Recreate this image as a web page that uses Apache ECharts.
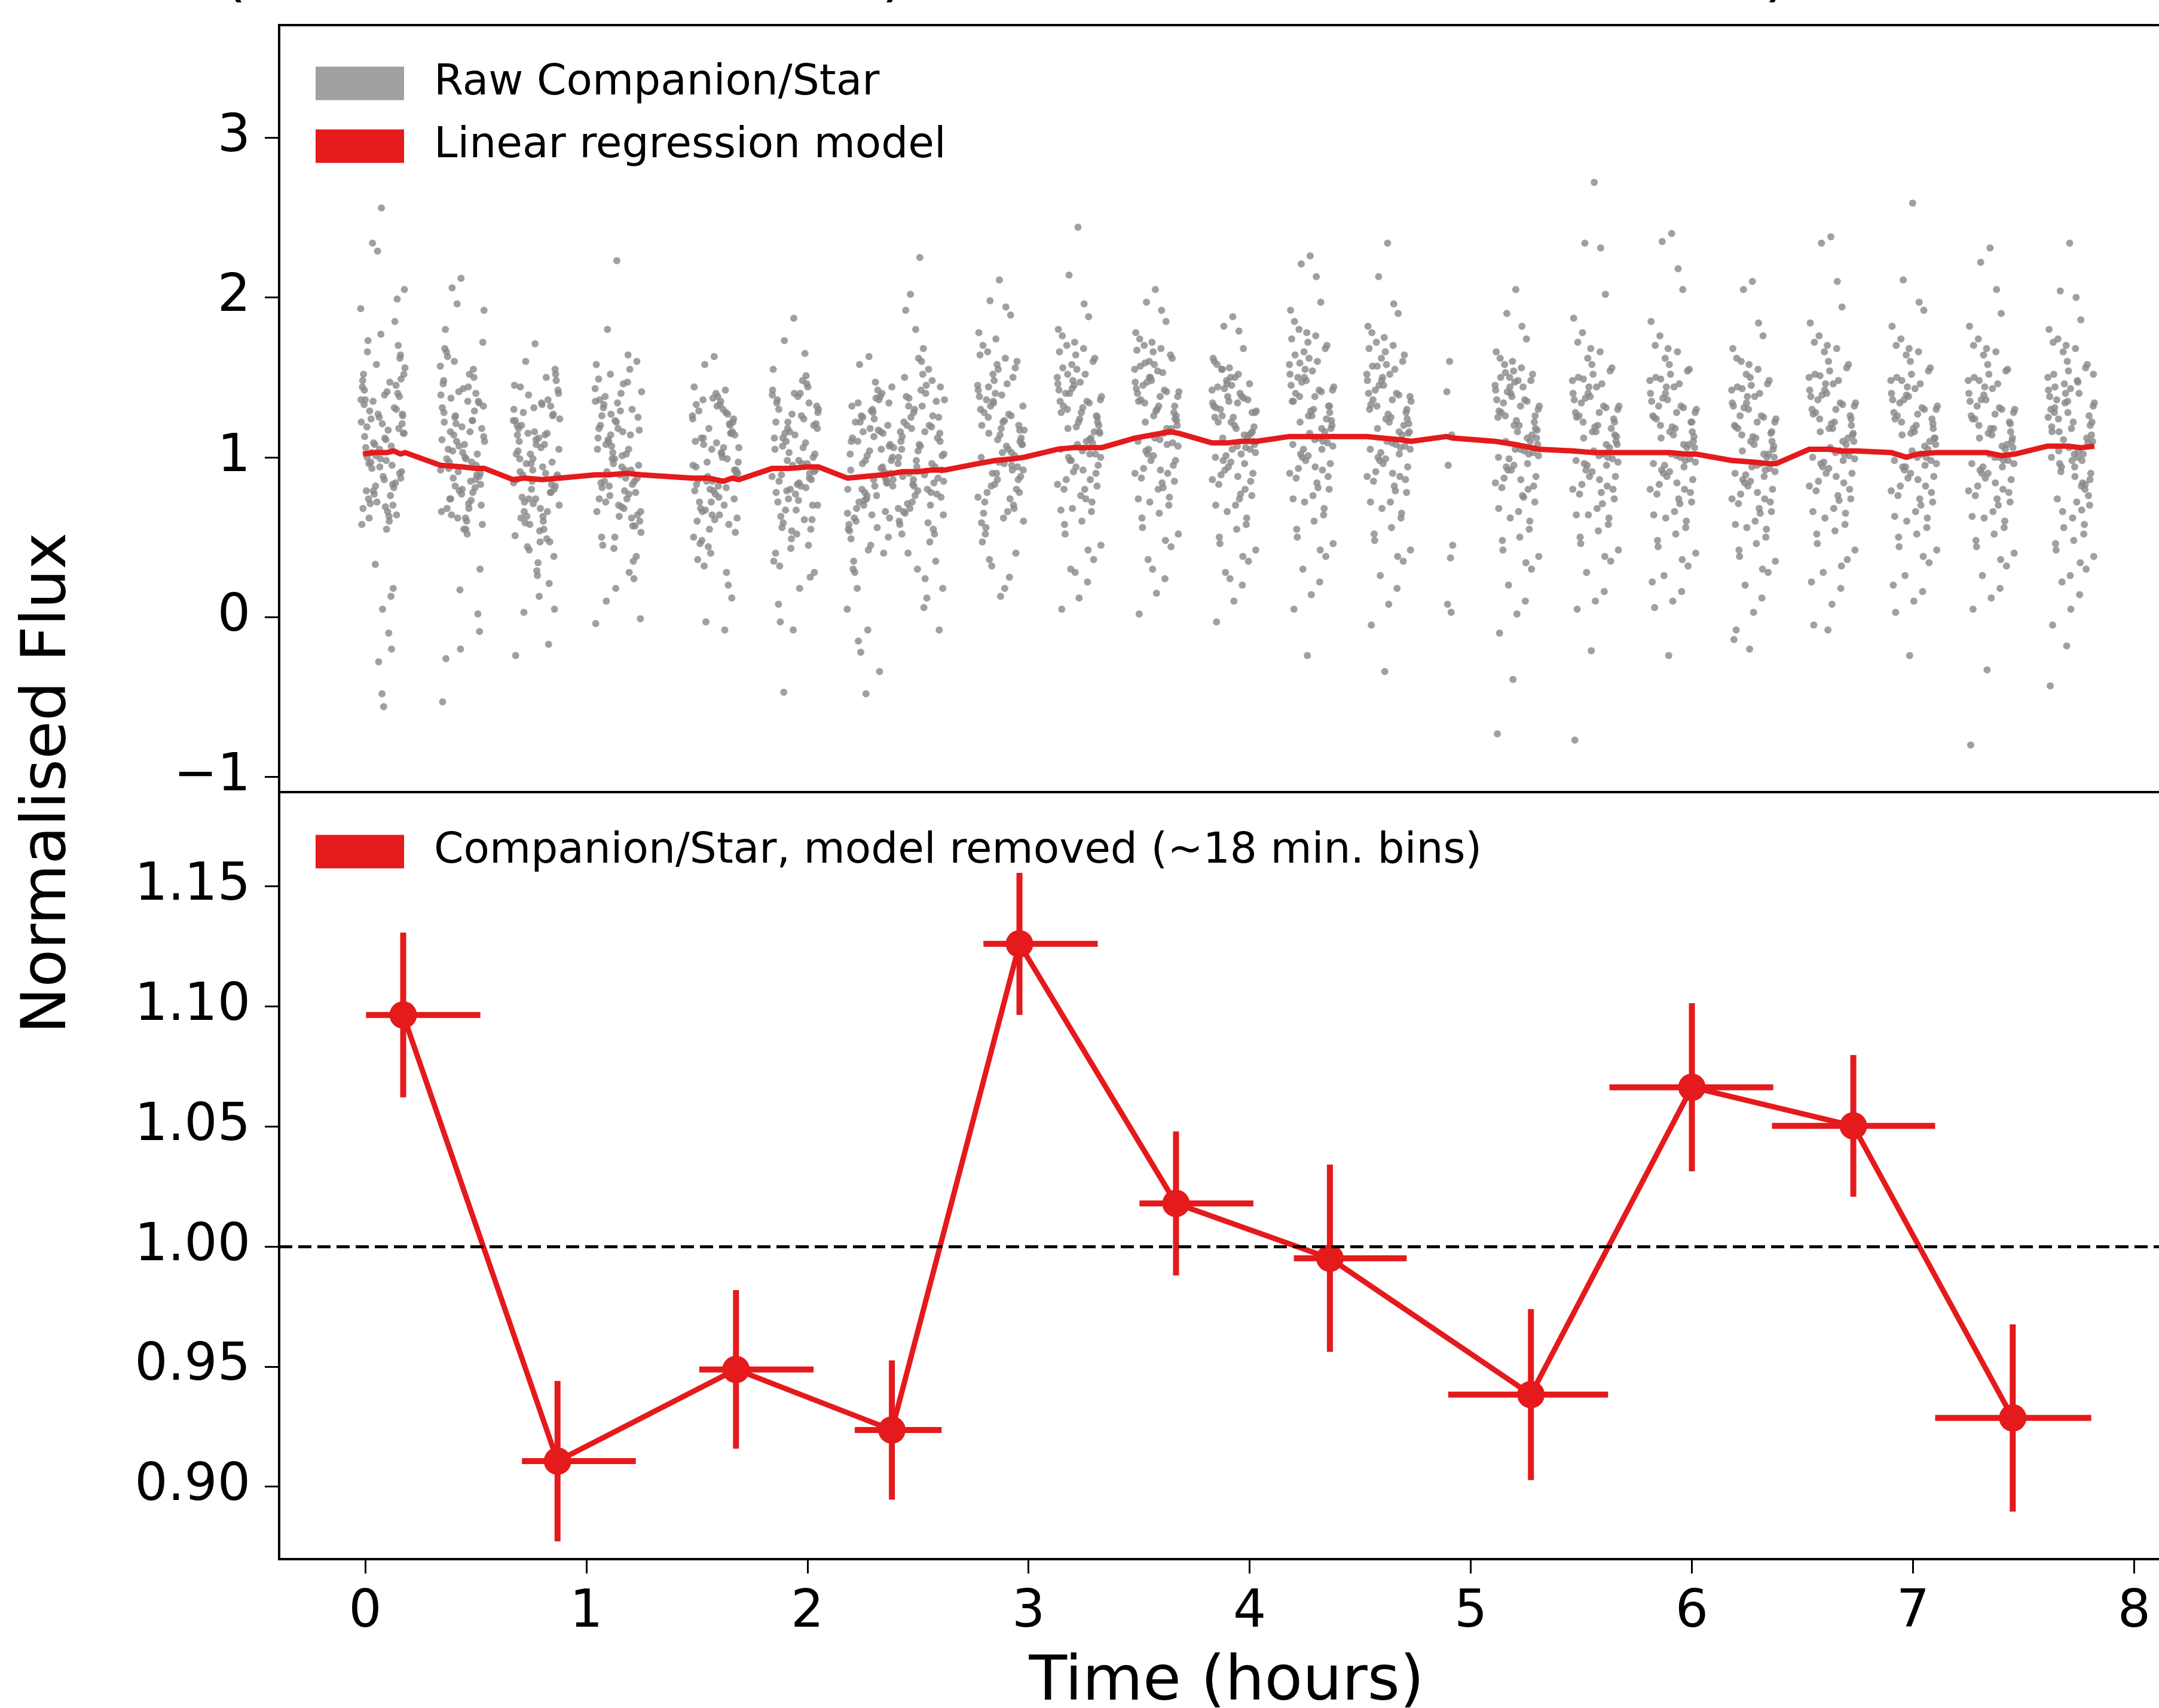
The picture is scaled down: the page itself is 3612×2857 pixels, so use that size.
<!DOCTYPE html>
<html><head><meta charset="utf-8">
<script src="https://cdn.jsdelivr.net/npm/echarts@6/dist/echarts.min.js"></script>
<style>html,body{margin:0;padding:0;background:#fff}#chart{width:3612px;height:2857px}</style>
</head><body><div id="chart"></div>
<script>
// ---- tick labels ----
const xTicks = [0, 1, 2, 3, 4, 5, 6, 7, 8];
const topYTicks = [-1, 0, 1, 2, 3];
const botYTicks = [0.90, 0.95, 1.00, 1.05, 1.10, 1.15];

// ---- raw Companion/Star observation blocks (hours) ----
const rawStart = [-0.02,0.34,0.67,1.04,1.48,1.84,2.18,2.41,2.77,3.13,3.48,3.83,4.18,4.53,4.89,5.11,5.46,5.81,6.18,6.53,6.90,7.25,7.61];
const rawEnd   = [0.18,0.54,0.88,1.25,1.69,2.05,2.39,2.62,2.98,3.33,3.68,4.03,4.38,4.73,4.92,5.31,5.67,6.02,6.38,6.74,7.11,7.46,7.82];
// time slot (0..79 within a block) of the i-th sample listed in each block
const rawSlot = [37,5,62,21,74,48,13,56,30,69,2,43,78,17,52,26,65,9,40,71,33,58,0,24,47,76,15,61,35,6,54,28,73,11,44,67,19,39,3,59,31,70,14,50,23,77,42,8,64,36,18,55,1,46,72,27,10,60,32,79,20,49,4,66,38,25,57,12,75,41,29,63,7,51,22,68,34,16,53,45,
  6.5,71.5,33.5,18.5,57.5,0.5,45.5,77.5,26.5,63.5,11.5,50.5,38.5,69.5,3.5,54.5,22.5,74.5,14.5,42.5,60.5,30.5,8.5,66.5,47.5];

const rawA = [2.56,1.52,0.84,2.34,1.21,0.66,1.73,0.95,2.29,1.38,0.58,1.12,2.05,0.71,1.47,0.33,1.99,1.06,0.88,1.64,1.25,0.18,1.93,0.77,1.41,1.15,0.62,1.85,0.99,1.33,0.13,1.58,0.91,1.19,0.69,1.70,1.03,0.05,1.44,0.81,1.27,1.62,0.74,-0.10,1.09,1.52,0.86,1.36,0.64,1.77,0.97,-0.20,1.22,0.55,1.49,1.01,0.79,1.31,-0.28,1.56,0.93,1.17,0.68,1.40,-0.48,1.08,0.83,1.66,1.26,-0.56,0.72,1.45,1.13,0.60,1.35,
  1.18,0.94,1.29,0.76,1.11,1.42,0.87,1.05,1.24,0.70,1.36,0.98,1.15,0.82,1.30,1.00,0.63,1.21,0.90,1.48,1.07,0.79,1.27,0.96,1.39];
const rawB = [2.12,1.46,0.81,2.06,1.18,0.52,1.63,0.97,1.96,1.34,0.66,1.08,1.92,0.74,1.52,1.25,0.89,1.80,1.03,0.30,1.41,0.78,1.57,1.14,0.60,1.72,0.93,1.29,0.17,1.48,0.85,1.21,0.70,1.66,1.00,0.02,1.37,0.80,1.11,1.55,0.62,-0.09,1.05,1.44,0.87,1.32,0.55,1.68,0.95,-0.20,1.16,0.73,1.39,0.99,0.83,1.26,-0.26,1.50,0.91,1.10,0.64,1.35,-0.53,1.02,0.77,1.60,1.23,0.68,0.58,1.43,
  1.10,0.86,1.22,0.68,1.04,1.35,0.79,0.97,1.16,0.62,1.28,0.90,1.07,0.74,1.23,0.92,0.55,1.13,0.82,1.40,0.99,0.71,1.19,0.88,1.31];
const rawC = [1.71,1.02,0.47,1.60,0.88,1.34,0.62,1.50,0.96,0.38,1.45,1.12,0.70,1.28,0.55,1.39,0.83,1.18,0.29,1.55,0.92,0.66,1.23,0.44,1.06,1.42,0.75,0.21,1.31,0.86,1.14,0.58,1.48,0.99,0.13,1.26,0.72,1.08,0.51,1.36,0.80,0.05,1.20,0.94,0.63,1.40,0.34,1.04,0.78,1.16,0.03,0.90,1.30,0.68,1.52,0.42,1.10,-0.17,0.85,1.24,0.59,1.33,-0.24,0.97,0.74,1.15,0.49,1.44,0.89,0.26,
  1.02,0.78,1.14,0.60,0.96,1.27,0.71,0.89,1.08,0.54,1.20,0.82,0.99,0.66,1.15,0.84,0.47,1.05,0.74,1.32,0.91,0.63,1.11,0.80,1.23];
const rawD = [2.23,1.12,0.62,1.80,0.95,1.46,0.45,1.64,1.03,0.78,1.58,1.29,0.53,1.38,0.87,1.52,0.35,1.20,0.70,1.60,0.99,0.28,1.43,0.82,1.16,0.60,1.33,0.92,0.18,1.49,0.74,1.07,1.25,0.50,1.40,0.85,0.10,1.18,0.66,1.55,0.96,0.38,1.31,0.79,1.10,-0.01,0.89,1.36,0.57,1.22,0.72,1.47,-0.04,1.01,0.64,1.27,0.84,1.14,0.43,1.41,0.91,0.68,1.05,0.24,1.34,0.76,
  1.05,0.81,1.17,0.63,0.99,1.30,0.74,0.92,1.11,0.57,1.23,0.85,1.02,0.69,1.18,0.87,0.50,1.08,0.77,1.35,0.94,0.66,1.14,0.83,1.26];
const rawE = [1.63,1.10,0.58,1.58,0.92,1.35,0.46,1.42,0.80,1.22,0.50,1.38,0.97,0.66,1.30,0.88,1.15,0.36,1.40,0.74,1.05,0.28,1.26,0.85,1.33,0.62,1.12,0.20,1.37,0.94,0.70,1.18,0.53,1.29,0.82,0.12,1.08,0.77,1.44,0.99,0.40,1.24,0.68,1.02,-0.03,0.90,1.32,0.60,1.20,0.79,1.36,-0.08,0.95,0.64,1.14,0.44,0.86,1.27,0.72,1.06,0.32,
  1.03,0.79,1.15,0.61,0.97,1.28,0.72,0.90,1.09,0.55,1.21,0.83,1.00,0.67,1.16,0.85,0.48,1.06,0.75,1.33,0.92,0.64,1.12,0.81,1.24];
const rawF = [1.87,1.05,0.45,1.73,0.92,1.40,0.32,1.65,1.16,0.70,1.55,0.83,1.28,0.56,1.48,0.98,0.25,1.36,0.77,1.20,0.49,1.51,0.88,1.10,0.18,1.32,0.63,1.44,0.95,0.40,1.24,0.74,1.02,0.08,1.38,0.86,0.59,1.14,0.35,1.46,0.80,1.00,-0.03,1.26,0.67,1.18,0.52,1.34,0.90,-0.08,1.07,0.61,1.42,0.84,0.28,1.22,0.72,0.96,0.43,1.30,-0.47,0.82,1.12,0.55,1.40,0.79,
  1.09,0.85,1.21,0.67,1.03,1.34,0.78,0.96,1.15,0.61,1.27,0.89,1.06,0.73,1.22,0.91,0.54,1.12,0.81,1.39,0.98,0.70,1.18,0.87,1.30];
const rawG = [1.63,1.02,0.40,1.58,0.90,1.47,0.28,1.38,0.78,1.20,0.55,1.30,0.86,0.18,1.42,0.96,0.66,1.12,0.45,1.34,0.74,1.05,0.05,1.26,0.82,1.44,0.60,1.15,-0.08,0.92,1.36,0.70,1.08,0.35,1.28,0.84,-0.15,1.18,0.58,1.40,0.98,0.50,1.22,0.76,-0.22,1.00,0.64,1.32,0.88,0.42,1.10,-0.34,0.80,1.24,0.62,1.16,0.30,0.94,-0.48,1.06,0.72,1.37,0.54,0.86,
  1.04,0.80,1.16,0.62,0.98,1.29,0.73,0.91,1.10,0.56,1.22,0.84,1.01,0.68,1.17,0.86,0.49,1.07,0.76,1.34,0.93,0.65,1.13,0.82,1.25];
const rawH = [2.25,1.10,0.52,2.02,0.92,1.45,1.92,0.78,1.80,1.25,0.60,1.68,1.02,0.40,1.55,0.86,1.35,0.66,1.60,1.15,0.30,1.48,0.96,0.72,1.40,0.18,1.20,0.84,1.62,1.05,0.47,1.30,0.75,1.50,0.06,1.12,0.90,1.42,0.58,1.26,0.98,-0.08,1.38,0.80,1.18,0.64,1.52,0.88,0.35,1.08,1.32,0.70,1.00,0.24,1.44,0.82,1.22,0.55,0.94,1.36,0.68,0.12,1.16,0.77,
  1.07,0.83,1.19,0.65,1.01,1.32,0.76,0.94,1.13,0.59,1.25,0.87,1.04,0.71,1.20,0.89,0.52,1.10,0.79,1.37,0.96,0.68,1.16,0.85,1.28];
const rawI = [2.11,1.30,0.68,1.98,1.12,1.94,0.52,1.89,1.40,0.86,1.78,1.22,0.60,1.66,1.05,1.52,0.40,1.70,1.18,0.78,1.58,0.95,1.45,0.32,1.62,1.08,1.36,0.70,1.55,1.00,0.25,1.48,0.88,1.28,0.62,1.60,1.15,0.13,1.38,0.92,1.74,1.20,0.56,1.46,0.82,1.32,1.03,0.47,1.56,0.97,1.25,0.74,1.42,0.18,1.10,1.34,0.65,1.50,0.90,1.17,0.36,1.07,1.64,0.80,
  1.14,0.90,1.26,0.72,1.08,1.39,0.83,1.01,1.20,0.66,1.32,0.94,1.11,0.78,1.27,0.96,0.59,1.17,0.86,1.44,1.03,0.75,1.23,0.92,1.35];
const rawJ = [2.44,1.35,0.72,2.14,1.20,1.96,0.58,1.88,1.45,0.90,1.80,1.28,0.45,1.70,1.10,1.58,0.36,1.76,1.24,0.82,1.64,1.02,1.50,0.30,1.68,1.15,1.40,0.66,1.55,1.05,0.22,1.48,0.95,1.32,0.60,1.62,1.18,0.12,1.42,0.86,1.72,1.26,0.52,1.52,0.98,1.36,0.76,0.05,1.60,1.08,1.30,0.42,1.46,0.92,1.22,0.68,1.56,1.12,0.28,1.38,1.00,0.80,1.66,1.16,
  1.22,0.98,1.34,0.80,1.16,1.47,0.91,1.09,1.28,0.74,1.40,1.02,1.19,0.86,1.35,1.04,0.67,1.25,0.94,1.52,1.11,0.83,1.31,1.00,1.43];
const rawK = [2.05,1.40,0.75,1.97,1.26,1.92,0.62,1.85,1.48,0.95,1.78,1.32,0.52,1.70,1.15,1.60,0.44,1.74,1.30,0.85,1.66,1.08,1.55,0.36,1.68,1.20,1.45,0.70,1.58,1.10,0.24,1.50,0.98,1.36,0.65,1.62,1.22,0.15,1.43,0.90,1.72,1.28,0.56,1.53,1.02,1.38,0.80,0.02,1.64,1.12,1.34,0.48,1.47,0.92,1.24,0.72,1.57,1.16,0.30,1.41,1.04,0.84,1.67,1.18,
  1.29,1.05,1.41,0.87,1.23,1.54,0.98,1.16,1.35,0.81,1.47,1.09,1.26,0.93,1.42,1.11,0.74,1.32,1.01,1.59,1.18,0.90,1.38,1.07,1.50];
const rawL = [1.88,1.25,0.62,1.82,1.10,1.79,0.50,1.68,1.35,0.85,1.62,1.18,0.42,1.55,1.02,1.48,0.35,1.58,1.20,0.76,1.50,0.96,1.42,0.28,1.52,1.08,1.30,0.58,1.45,1.00,0.20,1.38,0.90,1.22,0.55,1.46,1.12,0.10,1.32,0.80,1.56,1.15,0.46,1.40,0.92,1.28,0.70,-0.03,1.36,1.05,1.26,0.38,1.34,0.88,1.16,0.66,1.44,1.06,0.24,1.29,0.98,0.74,1.60,1.14,
  1.25,1.01,1.37,0.83,1.19,1.50,0.94,1.12,1.31,0.77,1.43,1.05,1.22,0.89,1.38,1.07,0.70,1.28,0.97,1.55,1.14,0.86,1.34,1.03,1.46];
const rawM = [2.26,1.35,0.68,2.21,1.18,2.13,0.55,1.97,1.48,0.88,1.92,1.30,0.46,1.80,1.12,1.66,0.38,1.85,1.26,0.80,1.72,1.05,1.58,0.30,1.76,1.20,1.50,0.64,1.62,1.08,0.22,1.55,0.96,1.40,0.60,1.70,1.22,0.14,1.45,0.92,1.78,1.32,0.50,1.60,1.00,1.42,0.76,0.05,1.68,1.15,1.38,0.42,1.52,0.94,1.28,0.72,1.64,1.10,-0.24,1.44,1.02,0.84,1.74,1.24,
  1.29,1.05,1.41,0.87,1.23,1.54,0.98,1.16,1.35,0.81,1.47,1.09,1.26,0.93,1.42,1.11,0.74,1.32,1.01,1.59,1.18,0.90,1.38,1.07,1.50];
const rawN = [2.34,1.30,0.65,2.13,1.15,1.96,0.52,1.90,1.45,0.86,1.82,1.25,0.42,1.72,1.08,1.62,0.35,1.78,1.22,0.78,1.66,1.02,1.52,0.26,1.70,1.16,1.42,0.62,1.58,1.05,0.18,1.50,0.94,1.36,0.56,1.64,1.18,0.08,1.40,0.88,1.75,1.28,0.48,1.55,0.98,1.38,0.72,-0.05,1.60,1.10,1.32,0.38,1.48,0.90,1.24,0.68,1.57,1.06,-0.34,1.35,1.00,0.82,1.68,1.20,
  1.27,1.03,1.39,0.85,1.21,1.52,0.96,1.14,1.33,0.79,1.45,1.07,1.24,0.91,1.40,1.09,0.72,1.30,0.99,1.57,1.16,0.88,1.36,1.05,1.48];
const rawO = [1.60,1.41,1.14,0.95,0.45,0.37,0.08,0.03];
const rawP = [2.05,1.25,0.60,1.90,1.12,1.82,0.48,1.74,1.38,0.82,1.66,1.20,0.38,1.58,1.04,1.50,0.30,1.62,1.16,0.72,1.54,0.96,1.45,0.20,1.56,1.08,1.34,0.55,1.47,1.00,0.10,1.40,0.88,1.28,0.50,1.52,1.10,0.02,1.36,0.80,1.60,1.22,0.42,1.44,0.92,1.30,0.66,-0.10,1.48,1.05,1.26,0.34,1.42,0.86,1.18,0.62,1.50,1.02,-0.39,1.32,0.94,0.76,-0.73,1.14,
  1.23,0.99,1.35,0.81,1.17,1.48,0.92,1.10,1.29,0.75,1.41,1.03,1.20,0.87,1.36,1.05,0.68,1.26,0.95,1.53,1.12,0.84,1.32,1.01,1.44];
const rawQ = [2.72,1.28,0.62,2.34,1.10,2.31,0.50,2.02,1.38,0.80,1.87,1.20,0.42,1.78,1.02,1.62,0.35,1.72,1.16,0.74,1.58,0.95,1.48,0.28,1.66,1.08,1.34,0.58,1.52,0.98,0.16,1.44,0.88,1.26,0.54,1.56,1.12,0.10,1.36,0.82,1.68,1.24,0.46,1.46,0.92,1.30,0.68,0.05,1.54,1.04,1.22,0.38,1.40,0.86,1.14,0.64,1.50,1.00,-0.21,1.32,0.96,0.78,-0.77,1.18,
  1.19,0.95,1.31,0.77,1.13,1.44,0.88,1.06,1.25,0.71,1.37,0.99,1.16,0.83,1.32,1.01,0.64,1.22,0.91,1.49,1.08,0.80,1.28,0.97,1.40];
const rawR = [2.40,1.26,0.60,2.35,1.10,2.18,0.48,2.05,1.36,0.78,1.85,1.18,0.40,1.76,1.00,1.62,0.32,1.70,1.14,0.72,1.58,0.94,1.48,0.26,1.66,1.06,1.32,0.56,1.52,0.96,0.16,1.44,0.86,1.24,0.52,1.55,1.12,0.10,1.35,0.80,1.68,1.22,0.44,1.46,0.90,1.28,0.66,0.06,1.54,1.02,1.20,0.36,1.40,0.84,1.16,0.62,1.50,0.98,-0.24,1.30,0.92,0.74,0.22,1.08,
  1.19,0.95,1.31,0.77,1.13,1.44,0.88,1.06,1.25,0.71,1.37,0.99,1.16,0.83,1.32,1.01,0.64,1.22,0.91,1.49,1.08,0.80,1.28,0.97,1.40];
const rawS = [2.10,1.20,0.55,2.05,1.05,1.84,0.42,1.76,1.30,0.72,1.68,1.12,0.35,1.60,0.96,1.52,0.28,1.62,1.08,0.66,1.50,0.88,1.42,0.20,1.55,1.00,1.26,0.50,1.45,0.90,0.12,1.38,0.80,1.18,0.46,1.48,1.04,0.03,1.32,0.74,1.58,1.15,0.38,1.40,0.84,1.22,0.60,-0.08,1.46,0.94,1.14,0.30,1.34,0.78,1.10,0.56,1.44,0.92,-0.20,1.24,0.86,0.68,-0.14,1.02,
  1.13,0.89,1.25,0.71,1.07,1.38,0.82,1.00,1.19,0.65,1.31,0.93,1.10,0.77,1.26,0.95,0.58,1.16,0.85,1.43,1.02,0.74,1.22,0.91,1.34];
const rawT = [2.38,1.30,0.65,2.34,1.14,2.10,0.52,1.94,1.40,0.80,1.84,1.22,0.42,1.76,1.04,1.66,0.36,1.72,1.18,0.74,1.60,0.98,1.50,0.28,1.68,1.10,1.36,0.58,1.54,1.00,0.18,1.46,0.90,1.28,0.54,1.58,1.16,0.08,1.38,0.84,1.70,1.26,0.46,1.48,0.94,1.32,0.68,-0.05,1.56,1.06,1.24,0.32,1.42,0.88,1.20,0.62,1.52,1.02,-0.08,1.34,0.96,0.76,0.22,1.12,
  1.21,0.97,1.33,0.79,1.15,1.46,0.90,1.08,1.27,0.73,1.39,1.01,1.18,0.85,1.34,1.03,0.66,1.24,0.93,1.51,1.10,0.82,1.30,0.99,1.42];
const rawU = [2.59,1.28,0.62,2.11,1.12,1.97,0.50,1.92,1.38,0.78,1.82,1.20,0.42,1.74,1.02,1.64,0.34,1.70,1.16,0.72,1.60,0.95,1.48,0.26,1.66,1.08,1.34,0.56,1.52,0.98,0.16,1.44,0.88,1.26,0.52,1.56,1.14,0.10,1.36,0.82,1.68,1.24,0.44,1.46,0.92,1.30,0.66,0.03,1.54,1.04,1.22,0.38,1.40,0.86,1.18,0.60,1.50,1.00,-0.24,1.32,0.94,0.74,0.20,1.10,
  1.18,0.94,1.30,0.76,1.12,1.43,0.87,1.05,1.24,0.70,1.36,0.98,1.15,0.82,1.31,1.00,0.63,1.21,0.90,1.48,1.07,0.79,1.27,0.96,1.39];
const rawV = [2.31,1.26,0.60,2.22,1.10,2.05,0.48,1.90,1.36,0.78,1.82,1.18,0.40,1.74,1.00,1.64,0.32,1.70,1.14,0.72,1.58,0.94,1.48,0.26,1.66,1.06,1.32,0.56,1.52,0.96,0.18,1.44,0.86,1.24,0.52,1.55,1.12,0.12,1.35,0.80,1.68,1.22,0.44,1.46,0.90,1.28,0.66,0.05,1.54,1.02,1.20,0.36,1.40,0.84,1.16,0.62,1.50,0.98,-0.33,1.30,0.92,0.74,-0.80,1.08,
  1.18,0.94,1.30,0.76,1.12,1.43,0.87,1.05,1.24,0.70,1.36,0.98,1.15,0.82,1.31,1.00,0.63,1.21,0.90,1.48,1.07,0.79,1.27,0.96,1.39];
const rawW = [2.34,1.30,0.58,2.04,1.14,2.00,0.46,1.86,1.40,0.76,1.80,1.22,0.38,1.74,1.04,1.66,0.30,1.72,1.18,0.70,1.60,0.98,1.50,0.22,1.68,1.10,1.36,0.52,1.54,1.00,0.14,1.46,0.90,1.28,0.48,1.58,1.16,0.05,1.38,0.84,1.70,1.26,0.42,1.48,0.94,1.32,0.62,-0.05,1.56,1.06,1.24,0.34,1.42,0.88,1.20,0.56,1.52,1.02,-0.18,1.34,0.96,0.72,-0.43,1.12,0.26,0.66,0.82,1.44,
  1.22,0.98,1.34,0.80,1.16,1.47,0.91,1.09,1.28,0.74,1.40,1.02,1.19,0.86,1.35,1.04,0.67,1.25,0.94,1.52,1.11,0.83,1.31,1.00,1.43];
const rawBlocks = [rawA,rawB,rawC,rawD,rawE,rawF,rawG,rawH,rawI,rawJ,rawK,rawL,rawM,rawN,rawO,rawP,rawQ,rawR,rawS,rawT,rawU,rawV,rawW];

// ---- linear regression model ----
const modelTime = [-0.01,0.04,0.10,0.13,0.16,0.18,0.34,0.44,0.50,0.54,0.67,0.72,0.80,0.88,1.04,1.10,1.18,1.25,1.48,1.55,1.62,1.66,1.69,1.84,1.92,2.00,2.05,2.18,2.26,2.34,2.39,2.43,2.50,2.56,2.62,2.77,2.85,2.93,2.98,3.13,3.20,3.28,3.33,3.48,3.56,3.64,3.68,3.83,3.90,3.96,4.03,4.18,4.25,4.32,4.38,4.53,4.60,4.68,4.73,4.89,4.92,5.11,5.20,5.31,5.46,5.55,5.62,5.67,5.81,5.90,5.97,6.02,6.18,6.28,6.35,6.38,6.53,6.62,6.68,6.74,6.90,6.97,7.02,7.11,7.25,7.33,7.40,7.46,7.61,7.70,7.76,7.82];
const modelFlux = [1.02,1.03,1.03,1.04,1.02,1.03,0.95,0.94,0.93,0.93,0.86,0.87,0.86,0.87,0.89,0.89,0.90,0.89,0.87,0.87,0.85,0.87,0.86,0.93,0.93,0.94,0.94,0.87,0.88,0.89,0.90,0.91,0.91,0.92,0.92,0.96,0.98,0.99,1.00,1.05,1.06,1.06,1.06,1.12,1.14,1.16,1.15,1.09,1.09,1.10,1.10,1.13,1.13,1.13,1.13,1.13,1.12,1.11,1.10,1.13,1.12,1.10,1.08,1.05,1.04,1.03,1.03,1.03,1.03,1.03,1.02,1.02,0.98,0.97,0.96,0.96,1.05,1.05,1.04,1.04,1.03,1.00,1.02,1.03,1.03,1.03,1.01,1.02,1.07,1.07,1.06,1.07];

// ---- binned, model removed ----
const binTime    = [0.172,0.870,1.677,2.382,2.959,3.667,4.363,5.272,6.000,6.730,7.451];
const binFlux    = [1.0964,0.9106,0.9488,0.9236,1.1260,1.0179,0.9951,0.9383,1.0663,1.0502,0.9286];
const binFluxErr = [0.0343,0.0334,0.0330,0.0290,0.0296,0.0300,0.0390,0.0356,0.0350,0.0295,0.0390];
const binTimeLo  = [0.004,0.709,1.511,2.214,2.796,3.502,4.200,4.898,5.627,6.362,7.100];
const binTimeHi  = [0.521,1.224,2.028,2.607,3.313,4.017,4.710,5.621,6.368,7.100,7.806];

// ---- build series data ----
const rawPoints = [];
rawBlocks.forEach((ys, k) => {
  ys.forEach((y, i) => {
    rawPoints.push([rawStart[k] + (rawEnd[k] - rawStart[k]) * rawSlot[i] / 79, y]);
  });
});
const modelPoints = modelTime.map((t, i) => [t, modelFlux[i]]);
const binPoints = binTime.map((t, i) => [t, binFlux[i]]);
const errData = binTime.map((t, i) => [t, binFlux[i], binTimeLo[i], binTimeHi[i], binFlux[i] - binFluxErr[i], binFlux[i] + binFluxErr[i]]);

const RED = '#e41a1c', GREY = '#888888', FONT = 'DejaVu Sans';
const X_MIN = -0.389, X_MAX = 8.18;

const chart = echarts.init(document.getElementById('chart'));
const tickStyle = { length: 24, lineStyle: { color: '#000', width: 3 } };
const labelStyle = { fontSize: 87, fontFamily: FONT, color: '#000' };

chart.setOption({
  animation: false,
  backgroundColor: '#fff',
  grid: [
    { left: 467, top: 42, width: 3170, height: 1283, outerBoundsMode: 'none', containLabel: false, show: true, borderColor: '#000', borderWidth: 4, backgroundColor: 'transparent' },
    { left: 467, top: 1325, width: 3170, height: 1283, outerBoundsMode: 'none', containLabel: false, show: true, borderColor: '#000', borderWidth: 4, backgroundColor: 'transparent' }
  ],
  xAxis: [
    { gridIndex: 0, type: 'value', min: X_MIN, max: X_MAX, axisLine: { show: false, onZero: false }, axisTick: { show: false }, axisLabel: { show: false }, splitLine: { show: false } },
    { gridIndex: 1, type: 'value', min: X_MIN, max: X_MAX, axisLine: { show: false, onZero: false },
      axisTick: Object.assign({ customValues: xTicks }, tickStyle),
      axisLabel: Object.assign({ customValues: xTicks, margin: 47 }, labelStyle),
      splitLine: { show: false },
      name: 'Time (hours)', nameLocation: 'middle', nameGap: 156,
      nameTextStyle: { fontSize: 104, fontFamily: FONT, color: '#000', verticalAlign: 'top' } }
  ],
  yAxis: [
    { gridIndex: 0, type: 'value', min: -1.095, max: 3.704, axisLine: { show: false, onZero: false },
      axisTick: Object.assign({ customValues: topYTicks }, tickStyle),
      axisLabel: Object.assign({ customValues: topYTicks, margin: 48, formatter: v => v < 0 ? '\u2212' + Math.abs(v) : String(v) }, labelStyle),
      splitLine: { show: false } },
    { gridIndex: 1, type: 'value', min: 0.8698, max: 1.1892, axisLine: { show: false, onZero: false },
      axisTick: Object.assign({ customValues: botYTicks }, tickStyle),
      axisLabel: Object.assign({ customValues: botYTicks, margin: 48, formatter: v => v.toFixed(2) }, labelStyle),
      splitLine: { show: false } }
  ],
  legend: [
    { data: ['Raw Companion/Star', 'Linear regression model'], orient: 'vertical', left: 528, top: 104, padding: 0,
      itemWidth: 148, itemHeight: 56, itemGap: 34, icon: 'rect', selectedMode: false,
      textStyle: { fontSize: 71, fontFamily: FONT, color: '#000', lineHeight: 56, padding: [0, 0, 0, 45] } },
    { data: ['Companion/Star, model removed (~18 min. bins)'], orient: 'vertical', left: 528, top: 1389, padding: 0,
      itemWidth: 148, itemHeight: 56, icon: 'rect', selectedMode: false,
      textStyle: { fontSize: 71, fontFamily: FONT, color: '#000', lineHeight: 56, padding: [0, 0, 0, 45] } }
  ],
  graphic: [
    { type: 'text', x: 82, y: 1310, rotation: Math.PI / 2,
      style: { text: 'Normalised Flux', fontSize: 104, fontFamily: FONT, fill: '#000', align: 'center', verticalAlign: 'middle' } },
    { type: 'text', x: 392, y: -36, style: { text: '(', fontSize: 104, fontFamily: FONT, fill: '#000', align: 'center', verticalAlign: 'middle' } },
    { type: 'text', x: 1495, y: -36, style: { text: ')', fontSize: 104, fontFamily: FONT, fill: '#000', align: 'center', verticalAlign: 'middle' } },
    { type: 'text', x: 2972, y: -36, style: { text: ')', fontSize: 104, fontFamily: FONT, fill: '#000', align: 'center', verticalAlign: 'middle' } }
  ],
  series: [
    { name: 'Raw Companion/Star', type: 'scatter', xAxisIndex: 0, yAxisIndex: 0, data: rawPoints,
      symbol: 'circle', symbolSize: 12, itemStyle: { color: GREY }, z: 2, large: false },
    { name: 'Linear regression model', type: 'line', xAxisIndex: 0, yAxisIndex: 0, data: modelPoints,
      showSymbol: false, symbol: 'none', lineStyle: { color: RED, width: 9 }, itemStyle: { color: RED }, z: 3 },
    { name: 'Companion/Star, model removed (~18 min. bins)', type: 'custom', xAxisIndex: 1, yAxisIndex: 1, data: errData,
      encode: { x: [0, 2, 3], y: [1, 4, 5] }, itemStyle: { color: RED }, z: 3,
      renderItem: (params, api) => {
        const x = api.value(0), y = api.value(1);
        const a = api.coord([api.value(2), y]), b = api.coord([api.value(3), y]);
        const c = api.coord([x, api.value(4)]), d = api.coord([x, api.value(5)]);
        const st = { stroke: RED, lineWidth: 10 };
        return { type: 'group', children: [
          { type: 'line', shape: { x1: a[0], y1: a[1], x2: b[0], y2: b[1] }, style: st },
          { type: 'line', shape: { x1: c[0], y1: c[1], x2: d[0], y2: d[1] }, style: st }
        ] };
      } },
    { name: 'Companion/Star, model removed (~18 min. bins)', type: 'line', xAxisIndex: 1, yAxisIndex: 1, data: binPoints,
      symbol: 'circle', symbolSize: 46, showSymbol: true, lineStyle: { color: RED, width: 9 }, itemStyle: { color: RED }, z: 4,
      markLine: { silent: true, symbol: 'none', label: { show: false },
        lineStyle: { color: '#000', width: 5, type: [22, 10] }, data: [{ yAxis: 1.0 }] } }
  ]
});
</script>
</body></html>
